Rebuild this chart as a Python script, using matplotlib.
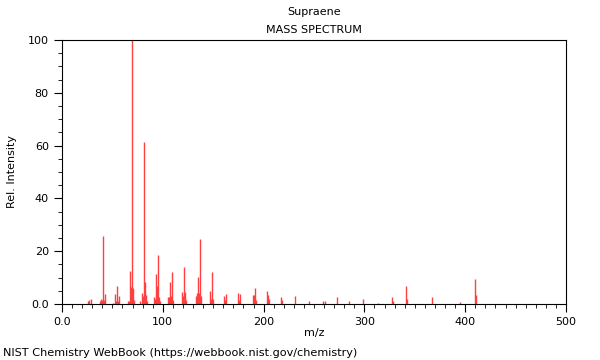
import matplotlib
matplotlib.use("Agg")
import matplotlib.pyplot as plt
from matplotlib.ticker import MultipleLocator, FuncFormatter

title = "Supraene"
subtitle = "MASS SPECTRUM"
mz = [26, 27, 29, 38, 39, 40, 41, 42, 43, 51, 53, 54, 55, 56, 57,
      65, 66, 67, 68, 69, 70, 71, 77, 79, 80, 81, 82, 83, 84,
      91, 92, 93, 94, 95, 96, 97, 105, 106, 107, 108, 109, 110,
      119, 120, 121, 122, 123, 133, 134, 135, 136, 137, 138,
      147, 148, 149, 150, 161, 162, 163, 175, 176, 177,
      189, 190, 191, 192, 203, 204, 205, 217, 218, 231, 245, 259, 261,
      273, 285, 299, 313, 327, 328, 341, 342, 367, 395, 410, 411]
intensity = [1.0, 1.5, 2.0, 1.0, 2.0, 1.5, 25.9, 1.5, 3.6, 0.5, 3.6, 1.0, 6.9, 1.0, 3.0,
             1.0, 1.0, 12.5, 6.5, 100.0, 6.0, 1.5, 1.0, 4.0, 3.0, 61.5, 8.5, 3.5, 1.0,
             2.5, 2.0, 11.5, 7.0, 18.6, 2.5, 1.0, 2.5, 2.5, 8.5, 3.0, 12.0, 1.5,
             4.5, 3.0, 14.0, 4.5, 1.5, 3.0, 4.3, 10.2, 4.0, 24.5, 3.0,
             4.9, 2.0, 12.0, 2.0, 3.0, 1.5, 3.7, 4.3, 1.5, 3.6,
             3.5, 3.5, 6.2, 1.5, 4.9, 3.4, 2.0, 2.5, 1.5, 3.0, 1.0, 1.1, 1.1,
             2.5, 1.2, 1.9, 0.5, 2.5, 1.0, 6.8, 1.9, 2.5, 0.9, 9.3, 3.4]

fig = plt.figure(figsize=(6, 3.6), dpi=100)
ax = fig.add_axes([62/600, 1-304/360, (566-62)/600, (304-40)/360])
ax.vlines(mz, 0, intensity, colors="#ff4040", linewidth=1.0)
ax.set_xlim(0, 500)
ax.set_ylim(0, 100)
ax.xaxis.set_major_locator(MultipleLocator(100))
ax.xaxis.set_minor_locator(MultipleLocator(10))
ax.yaxis.set_major_locator(MultipleLocator(20))
ax.yaxis.set_minor_locator(MultipleLocator(5))
fmt = FuncFormatter(lambda v, p: "0.0" if v == 0 else f"{int(v)}")
ax.xaxis.set_major_formatter(fmt)
ax.yaxis.set_major_formatter(fmt)
ax.tick_params(which="major", length=6, width=0.8, labelsize=8, direction="out")
ax.tick_params(which="minor", length=3, width=0.6, direction="out")
for s in ax.spines.values():
    s.set_linewidth(0.8)
ax.set_xlabel("m/z", fontsize=8)
ax.set_ylabel("Rel. Intensity", fontsize=8)
ax.xaxis.set_label_coords(0.5, -(328-304)/264, transform=ax.transAxes)
ax.yaxis.set_label_coords(-(62-17)/504, 0.5, transform=ax.transAxes)
fig.text(314/600, 1-12/360, title, ha="center", va="center", fontsize=8)
fig.text(314/600, 1-30/360, subtitle, ha="center", va="center", fontsize=8)
fig.text(3/600, 1-353/360, "NIST Chemistry WebBook (https://webbook.nist.gov/chemistry)",
         ha="left", va="center", fontsize=8.1)
fig.savefig("out.png", dpi=100)
